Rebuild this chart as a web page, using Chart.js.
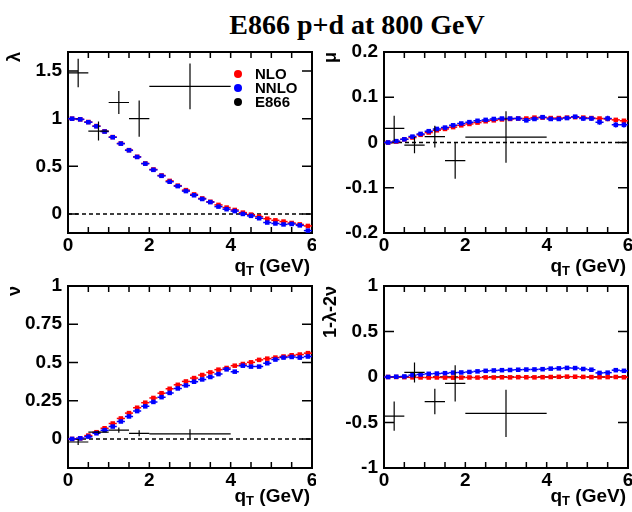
<!DOCTYPE html>
<html>
<head>
<meta charset="utf-8">
<script src="https://cdn.jsdelivr.net/npm/chart.js"></script>
<style>
  body { margin: 0; background: #fff; width: 632px; height: 512px; position: relative; overflow: hidden; }
  canvas { position: absolute; }
  #title {
    position: absolute; left: 0; top: 11px; width: 714px; text-align: center;
    font: bold 28px 'Liberation Serif', 'Times New Roman', serif; line-height: 28px; color: #000;
  }
</style>
</head>
<body>
<div id="title">E866 p+d at 800 GeV</div>
<canvas id="cLambda" width="316" height="240" style="left:0;top:40px"></canvas>
<canvas id="cMu" width="316" height="240" style="left:316px;top:40px"></canvas>
<canvas id="cNu" width="316" height="240" style="left:0;top:272px"></canvas>
<canvas id="cLT" width="316" height="240" style="left:316px;top:272px"></canvas>
<script>
// --- datos ---
// centros de los bins teoricos (ancho 0.2 GeV)
const qtCenters = [0.1, 0.3, 0.5, 0.7, 0.9, 1.1, 1.3, 1.5, 1.7, 1.9, 2.1, 2.3, 2.5, 2.7, 2.9,
                   3.1, 3.3, 3.5, 3.7, 3.9, 4.1, 4.3, 4.5, 4.7, 4.9, 5.1, 5.3, 5.5, 5.7, 5.9];
const qtHalfBin = 0.1;
// puntos E866
const e866Qt = [0.25, 0.75, 1.25, 1.75, 3.0];
const e866QtErr = [0.25, 0.25, 0.25, 0.25, 1.0];

const qtTickLabels = [0, 2, 4, 6];
const qtTickMarks = [0, 0.5, 1, 1.5, 2, 2.5, 3, 3.5, 4, 4.5, 5, 5.5, 6];

// lambda
const lambdaNLO = [1.0, 0.993, 0.965, 0.923, 0.867, 0.807, 0.74, 0.67, 0.60, 0.53, 0.467, 0.404, 0.347, 0.297, 0.25,
                   0.205, 0.163, 0.128, 0.095, 0.067, 0.042, 0.014, -0.007, -0.028, -0.05, -0.067, -0.08, -0.095, -0.11, -0.126];
const lambdaNNLO = [1.0, 0.993, 0.963, 0.92, 0.865, 0.805, 0.738, 0.668, 0.598, 0.528, 0.463, 0.40, 0.338, 0.292, 0.24,
                    0.196, 0.157, 0.124, 0.077, 0.05, 0.03, 0.0, -0.02, -0.045, -0.09, -0.1, -0.11, -0.105, -0.12, -0.175];
const lambdaE866 = [1.48, 0.87, 1.17, 1.0, 1.34];
const lambdaE866Err = [0.15, 0.10, 0.12, 0.19, 0.24];
const lambdaTicks = [0, 0.5, 1, 1.5];

// mu
const muNLO = [0.0, 0.002, 0.007, 0.011, 0.017, 0.022, 0.027, 0.03, 0.034, 0.038, 0.041, 0.044, 0.047, 0.049, 0.051,
               0.052, 0.053, 0.053, 0.055, 0.055, 0.054, 0.054, 0.055, 0.056, 0.055, 0.054, 0.053, 0.052, 0.05, 0.048];
const muNNLO = [0.0, 0.003, 0.007, 0.013, 0.019, 0.025, 0.03, 0.033, 0.038, 0.042, 0.045, 0.048, 0.05, 0.052, 0.053,
                0.053, 0.053, 0.049, 0.052, 0.056, 0.052, 0.052, 0.054, 0.057, 0.053, 0.053, 0.045, 0.053, 0.039, 0.039];
const muNNLOErr = [0.001, 0.001, 0.002, 0.002, 0.002, 0.002, 0.002, 0.002, 0.002, 0.002, 0.002, 0.002, 0.002, 0.002, 0.002,
                   0.003, 0.003, 0.004, 0.003, 0.003, 0.004, 0.004, 0.004, 0.004, 0.005, 0.005, 0.006, 0.006, 0.006, 0.006];
const muE866 = [0.031, -0.006, 0.013, -0.04, 0.012];
const muE866Err = [0.028, 0.018, 0.024, 0.04, 0.057];
const muTicks = [-0.2, -0.1, 0, 0.1, 0.2];

// nu
const nuNLO = [0.0, 0.004, 0.022, 0.044, 0.07, 0.101, 0.134, 0.169, 0.204, 0.237, 0.268, 0.299, 0.328, 0.354, 0.376,
               0.398, 0.418, 0.435, 0.453, 0.464, 0.479, 0.49, 0.501, 0.517, 0.525, 0.532, 0.539, 0.547, 0.552, 0.561];
const nuNNLO = [0.0, 0.004, 0.015, 0.037, 0.057, 0.081, 0.114, 0.147, 0.182, 0.213, 0.242, 0.273, 0.301, 0.33, 0.35,
                0.374, 0.389, 0.405, 0.424, 0.455, 0.44, 0.479, 0.473, 0.473, 0.495, 0.519, 0.532, 0.536, 0.532, 0.539];
const nuNNLOErr = [0.002, 0.002, 0.003, 0.003, 0.004, 0.004, 0.004, 0.004, 0.004, 0.004, 0.004, 0.005, 0.005, 0.005, 0.005,
                   0.005, 0.005, 0.006, 0.006, 0.006, 0.008, 0.008, 0.008, 0.008, 0.008, 0.01, 0.01, 0.012, 0.012, 0.012];
const nuE866 = [-0.02, 0.044, 0.057, 0.037, 0.033];
const nuE866Err = [0.02, 0.01, 0.017, 0.02, 0.03];
const nuTicks = [0, 0.25, 0.5, 0.75, 1];

// 1-lambda-2nu (Lam-Tung)
const ltNLO = [0.0, 0.0, -0.002, -0.004, -0.005, -0.006, -0.005, -0.006, -0.007, -0.006, -0.005, -0.006, -0.004, -0.005, -0.003,
               -0.004, -0.002, -0.003, -0.004, -0.002, 0.0, 0.002, 0.004, 0.003, 0.001, -0.001, -0.002, -0.001, 0.0, -0.003];
const ltNNLO = [0.0, 0.003, 0.006, 0.02, 0.028, 0.035, 0.038, 0.042, 0.048, 0.05, 0.055, 0.062, 0.068, 0.072, 0.075,
                0.077, 0.08, 0.082, 0.083, 0.086, 0.092, 0.095, 0.1, 0.098, 0.088, 0.08, 0.045, 0.048, 0.075, 0.068];
const ltE866 = [-0.43, 0.05, -0.27, -0.07, -0.4];
const ltE866Err = [0.16, 0.11, 0.14, 0.2, 0.26];
const ltTicks = [-1, -0.5, 0, 0.5, 1];

const legendLabels = ['NLO', 'NNLO', 'E866'];
const legendColors = ['#ff0000', '#0000ff', '#000000'];

// --- estilo ---
const FONT = "'Liberation Sans', Arial, Helvetica, sans-serif";
Chart.defaults.font.family = FONT;
Chart.defaults.font.weight = 'bold';
Chart.defaults.color = '#000';

const toPoints = (xs, ys) => xs.map((x, i) => ({ x: x, y: ys[i] }));

// barras de error (horizontales = ancho de bin, verticales = error)
const errorBarPlugin = {
  id: 'errorBars',
  beforeDatasetDraw(chart, args) {
    const ds = chart.data.datasets[args.index];
    if (ds.xErr === undefined && ds.yErr === undefined) return;
    const { ctx, scales: { x, y } } = chart;
    ctx.save();
    ctx.strokeStyle = ds.errColor;
    ctx.lineWidth = ds.errWidth;
    ds.data.forEach((p, i) => {
      const ex = Array.isArray(ds.xErr) ? ds.xErr[i] : (ds.xErr || 0);
      const ey = Array.isArray(ds.yErr) ? ds.yErr[i] : (ds.yErr || 0);
      const px = x.getPixelForValue(p.x);
      const py = y.getPixelForValue(p.y);
      ctx.beginPath();
      if (ex) {
        ctx.moveTo(x.getPixelForValue(p.x - ex), py);
        ctx.lineTo(x.getPixelForValue(p.x + ex), py);
      }
      if (ey) {
        ctx.moveTo(px, y.getPixelForValue(p.y - ey));
        ctx.lineTo(px, y.getPixelForValue(p.y + ey));
      }
      ctx.stroke();
    });
    ctx.restore();
  }
};

// marco tipo ROOT: linea en cero, ticks hacia dentro, recuadro
const framePlugin = {
  id: 'rootFrame',
  beforeDatasetsDraw(chart) {
    const { ctx, chartArea: a, scales: { x, y } } = chart;
    ctx.save();
    ctx.strokeStyle = '#000';
    ctx.lineWidth = 1.5;
    ctx.setLineDash([4, 3]);
    const y0 = y.getPixelForValue(0);
    ctx.beginPath();
    ctx.moveTo(a.left, y0);
    ctx.lineTo(a.right, y0);
    ctx.stroke();
    ctx.setLineDash([]);

    ctx.beginPath();
    qtTickMarks.forEach(v => {
      const px = x.getPixelForValue(v);
      ctx.moveTo(px, a.bottom); ctx.lineTo(px, a.bottom - 6);
      ctx.moveTo(px, a.top); ctx.lineTo(px, a.top + 6);
    });
    y.ticks.forEach(t => {
      const py = y.getPixelForValue(t.value);
      ctx.moveTo(a.left, py); ctx.lineTo(a.left + 10, py);
      ctx.moveTo(a.right, py); ctx.lineTo(a.right - 10, py);
    });
    ctx.stroke();

    ctx.lineWidth = 2;
    ctx.strokeRect(a.left, a.top, a.right - a.left, a.bottom - a.top);
    ctx.restore();
  }
};

// titulo del eje x con subindice: q_T (GeV)
const qtTitlePlugin = {
  id: 'qtTitle',
  afterDraw(chart, args, opts) {
    const { ctx, chartArea: a } = chart;
    const base = a.bottom + opts.offset;
    const big = 'bold 19px ' + FONT;
    const small = 'bold 13px ' + FONT;
    ctx.save();
    ctx.fillStyle = '#000';
    ctx.textBaseline = 'alphabetic';
    ctx.font = big;
    const wq = ctx.measureText('q').width;
    const wRest = ctx.measureText(' (GeV)').width;
    ctx.font = small;
    const wT = ctx.measureText('T').width;
    let px = a.right - 2 - (wq + wT + wRest);
    ctx.font = big;
    ctx.fillText('q', px, base);
    px += wq;
    ctx.font = small;
    ctx.fillText('T', px, base + 3);
    px += wT;
    ctx.font = big;
    ctx.fillText(' (GeV)', px, base);
    ctx.restore();
  }
};

// leyenda dentro del primer panel
const insetLegendPlugin = {
  id: 'insetLegend',
  afterDatasetsDraw(chart, args, opts) {
    if (!opts.show) return;
    const { ctx, chartArea: a } = chart;
    ctx.save();
    ctx.font = 'bold 15px ' + FONT;
    ctx.textBaseline = 'middle';
    legendLabels.forEach((lbl, i) => {
      const cy = a.top + opts.top + i * opts.step;
      ctx.fillStyle = legendColors[i];
      ctx.beginPath();
      ctx.arc(a.left + opts.markerX, cy, 4, 0, Math.PI * 2);
      ctx.fill();
      ctx.fillStyle = '#000';
      ctx.fillText(lbl, a.left + opts.textX, cy + 1);
    });
    ctx.restore();
  }
};

function makePanel(canvasId, p) {
  const ctx = document.getElementById(canvasId).getContext('2d');
  return new Chart(ctx, {
    type: 'scatter',
    data: {
      datasets: [
        {
          label: 'E866',
          data: toPoints(e866Qt, p.e866),
          xErr: e866QtErr, yErr: p.e866Err,
          errColor: '#000', errWidth: 1.2,
          pointRadius: 0, order: 0
        },
        {
          label: 'NNLO',
          data: toPoints(qtCenters, p.nnlo),
          xErr: qtHalfBin, yErr: p.nnloErr,
          errColor: '#0000ff', errWidth: 1.5,
          pointStyle: 'rect', pointRadius: 3.2, pointBorderWidth: 0,
          pointBackgroundColor: '#0000ff', order: 1
        },
        {
          label: 'NLO',
          data: toPoints(qtCenters, p.nlo),
          xErr: qtHalfBin,
          errColor: '#ff0000', errWidth: 1.5,
          pointStyle: 'rect', pointRadius: 3.2, pointBorderWidth: 0,
          pointBackgroundColor: '#ff0000', order: 2
        }
      ]
    },
    options: {
      responsive: false,
      animation: false,
      devicePixelRatio: 1,
      layout: { padding: { left: 0, right: 4, top: p.padTop, bottom: 0 } },
      plugins: {
        legend: { display: false },
        tooltip: { enabled: false },
        qtTitle: { offset: p.titleOffset },
        insetLegend: { show: !!p.legend, markerX: 170, textX: 187, top: 22, step: 14 }
      },
      scales: {
        x: {
          type: 'linear', min: 0, max: 6,
          afterBuildTicks: s => { s.ticks = qtTickLabels.map(v => ({ value: v })); },
          afterFit: s => { s.height = p.xAxisH; s.paddingLeft = 0; s.paddingRight = 0; },
          ticks: { font: { size: 19, weight: 'bold' }, color: '#000', padding: 1, maxRotation: 0, autoSkip: false,
                   callback: v => String(v) },
          grid: { display: false, drawTicks: false },
          border: { display: false }
        },
        y: {
          type: 'linear', min: p.yMin, max: p.yMax,
          afterBuildTicks: s => { s.ticks = p.ticks.map(v => ({ value: v })); },
          afterFit: s => { s.width = 68; s.paddingTop = 0; s.paddingBottom = 0; },
          ticks: { font: { size: 19, weight: 'bold' }, color: '#000', padding: 6, autoSkip: false,
                   callback: v => String(v) },
          grid: { display: false, drawTicks: false },
          border: { display: false },
          title: { display: true, text: p.yTitle, align: 'end', color: '#000',
                   font: { size: 18, weight: 'bold' }, padding: { top: 4, bottom: 0 } }
        }
      }
    },
    plugins: [framePlugin, errorBarPlugin, qtTitlePlugin, insetLegendPlugin]
  });
}

makePanel('cLambda', { nlo: lambdaNLO, nnlo: lambdaNNLO, e866: lambdaE866, e866Err: lambdaE866Err,
  ticks: lambdaTicks, yMin: -0.2, yMax: 1.7, yTitle: 'λ', padTop: 12, xAxisH: 47, titleOffset: 39, legend: true });
makePanel('cMu', { nlo: muNLO, nnlo: muNNLO, nnloErr: muNNLOErr, e866: muE866, e866Err: muE866Err,
  ticks: muTicks, yMin: -0.2, yMax: 0.2, yTitle: 'μ', padTop: 12, xAxisH: 47, titleOffset: 39 });
makePanel('cNu', { nlo: nuNLO, nnlo: nuNNLO, nnloErr: nuNNLOErr, e866: nuE866, e866Err: nuE866Err,
  ticks: nuTicks, yMin: -0.19, yMax: 1, yTitle: 'ν', padTop: 14, xAxisH: 44, titleOffset: 34 });
makePanel('cLT', { nlo: ltNLO, nnlo: ltNNLO, e866: ltE866, e866Err: ltE866Err,
  ticks: ltTicks, yMin: -1, yMax: 1, yTitle: '1-λ-2ν', padTop: 14, xAxisH: 44, titleOffset: 34 });
</script>
</body>
</html>
